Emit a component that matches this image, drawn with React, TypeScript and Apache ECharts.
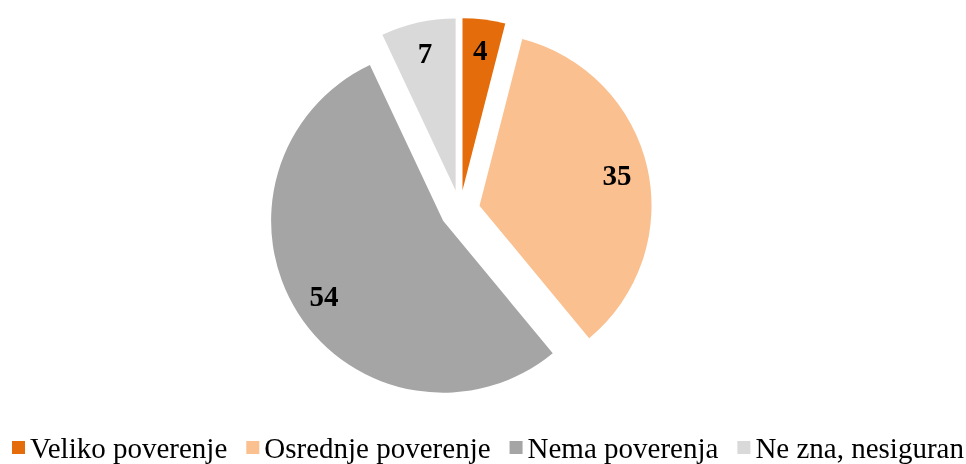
import React, { useEffect, useRef } from "react";
import * as echarts from "echarts";

const categories = ["Veliko poverenje", "Osrednje poverenje", "Nema poverenja", "Ne zna, nesiguran"];
const values = [4, 35, 54, 7];
const colors = ["#E46C0A", "#FAC090", "#A5A5A5", "#D9D9D9"];

const SERIF = "Liberation Serif";

export default function App() {
  const ref = useRef<HTMLDivElement>(null);
  useEffect(() => {
    if (!ref.current) return;
    const chart = echarts.init(ref.current, undefined, { renderer: "svg" });
    const data = categories.map((name, i) => ({
      name,
      value: values[i],
      selected: true,
      itemStyle: { color: colors[i] },
    }));
    const common = {
      type: "pie" as const,
      center: [460, 210],
      startAngle: 90,
      clockwise: true,
      selectedMode: "multiple" as const,
      selectedOffset: 20,
      avoidLabelOverlap: false,
    };
    const legendText = {
      fontFamily: SERIF,
      fontSize: 29,
      color: "#000",
    };
    chart.setOption({
      animation: false,
      color: colors,
      textStyle: { fontFamily: SERIF },
      legend: {
        bottom: 2,
        left: 12,
        width: 954,
        padding: 0,
        icon: "rect",
        itemWidth: 13,
        itemHeight: 13,
        itemGap: 19,
        selectedMode: false,
        textStyle: legendText,
        data: categories.map((name) => ({ name, textStyle: legendText })),
      },
      series: [
        {
          ...common,
          radius: [0, 172],
          label: { show: false },
          labelLine: { show: false },
          emphasis: { disabled: true },
          itemStyle: { borderWidth: 0 },
          data,
        },
        {
          ...common,
          radius: [104, 172],
          silent: true,
          label: {
            show: true,
            position: "inside",
            formatter: "{c}",
            fontFamily: SERIF,
            fontWeight: "bold",
            fontSize: 29,
            color: "#000",
          },
          labelLine: { show: false },
          emphasis: { disabled: true },
          itemStyle: { color: "rgba(0,0,0,0)", borderWidth: 0 },
          data: categories.map((name, i) => ({
            name,
            value: values[i],
            selected: true,
            itemStyle: { color: "rgba(0,0,0,0)" },
          })),
        },
      ],
    });
    return () => chart.dispose();
  }, []);
  return (
    <div
      ref={ref}
      style={{ position: "fixed", left: 0, top: 0, width: 966, height: 464 }}
    />
  );
}
